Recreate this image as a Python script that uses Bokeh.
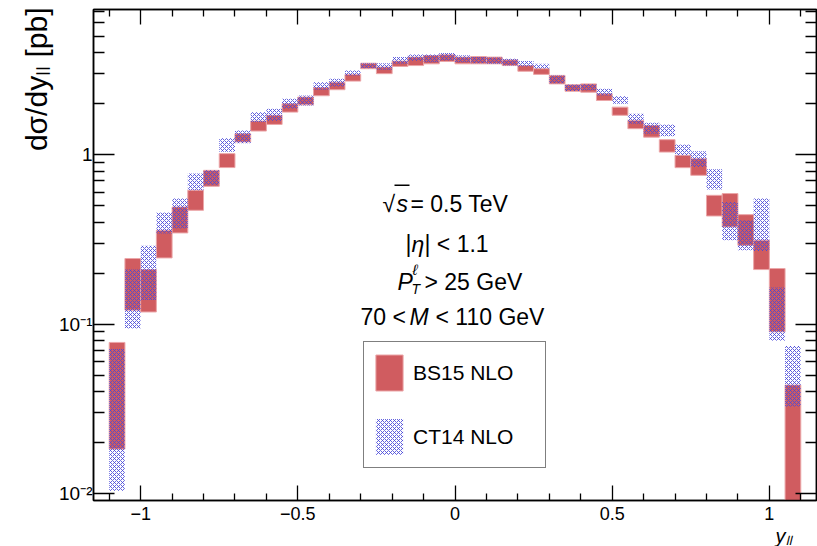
from bokeh.plotting import figure
from bokeh.models import (ColumnDataSource, Range1d, FixedTicker, LinearAxis, LogAxis,
                          Label, Legend, LegendItem, BoxAnnotation, Title)
from bokeh.embed import file_html
from bokeh.resources import INLINE

# ---------------- data ----------------
bin_lo = [-1.10, -1.05, -1.00, -0.95, -0.90, -0.85, -0.80, -0.75, -0.70, -0.65, -0.60,
          -0.55, -0.50, -0.45, -0.40, -0.35, -0.30, -0.25, -0.20, -0.15, -0.10, -0.05,
          0.00, 0.05, 0.10, 0.15, 0.20, 0.25, 0.30, 0.35, 0.40, 0.45, 0.50,
          0.55, 0.60, 0.65, 0.70, 0.75, 0.80, 0.85, 0.90, 0.95, 1.00, 1.05]
bin_hi = [-1.05, -1.00, -0.95, -0.90, -0.85, -0.80, -0.75, -0.70, -0.65, -0.60, -0.55,
          -0.50, -0.45, -0.40, -0.35, -0.30, -0.25, -0.20, -0.15, -0.10, -0.05, 0.00,
          0.05, 0.10, 0.15, 0.20, 0.25, 0.30, 0.35, 0.40, 0.45, 0.50, 0.55,
          0.60, 0.65, 0.70, 0.75, 0.80, 0.85, 0.90, 0.95, 1.00, 1.05, 1.10]

bs15_lo = [0.0183, 0.121, 0.118, 0.246, 0.3455, 0.470, 0.651, 0.840, 1.19, 1.38, 1.51,
           1.785, 1.97, 2.23, 2.42, 2.72, 3.22, 3.01, 3.32, 3.36, 3.44, 3.55,
           3.44, 3.44, 3.44, 3.36, 3.11, 2.98, 2.62, 2.37, 2.34, 2.09, 1.71,
           1.425, 1.27, 1.037, 0.839, 0.756, 0.435, 0.375, 0.292, 0.210, 0.0901, 0.004]
bs15_hi = [0.078, 0.244, 0.210, 0.358, 0.4915, 0.617, 0.809, 1.015, 1.33, 1.58, 1.71,
           2.00, 2.19, 2.49, 2.68, 2.98, 3.47, 3.29, 3.57, 3.77, 3.85, 3.89,
           3.77, 3.80, 3.77, 3.63, 3.36, 3.22, 2.94, 2.59, 2.62, 2.29, 1.91,
           1.595, 1.49, 1.227, 0.992, 0.948, 0.576, 0.590, 0.443, 0.313, 0.213, 0.0437]

ct14_lo = [0.0104, 0.0944, 0.139, 0.343, 0.367, 0.617, 0.660, 1.04, 1.17, 1.56, 1.58,
           1.87, 1.95, 2.42, 2.53, 2.94, 3.24, 3.17, 3.44, 3.57, 3.52, 3.60,
           3.52, 3.47, 3.45, 3.36, 3.32, 3.22, 2.64, 2.38, 2.40, 2.24, 2.00,
           1.525, 1.332, 1.284, 0.992, 0.846, 0.623, 0.313, 0.273, 0.2706, 0.0798, 0.0326]
ct14_hi = [0.0713, 0.210, 0.290, 0.456, 0.551, 0.774, 0.810, 1.25, 1.39, 1.785, 1.87,
           2.14, 2.24, 2.68, 2.81, 3.14, 3.47, 3.47, 3.77, 3.91, 3.91, 3.98,
           3.86, 3.77, 3.75, 3.69, 3.57, 3.44, 2.94, 2.60, 2.62, 2.45, 2.22,
           1.747, 1.546, 1.51, 1.151, 1.047, 0.820, 0.526, 0.410, 0.551, 0.1646, 0.0742]

series_names = ["BS15 NLO", "CT14 NLO"]

x_major = [-1.0, -0.5, 0.0, 0.5, 1.0]
x_minor = [-1.1, -0.9, -0.8, -0.7, -0.6, -0.4, -0.3, -0.2, -0.1,
           0.1, 0.2, 0.3, 0.4, 0.6, 0.7, 0.8, 0.9, 1.1]
x_labels = {-1.0: "\u22121", -0.5: "\u22120.5", 0.0: "0", 0.5: "0.5", 1.0: "1"}
y_major = [0.01, 0.1, 1.0]
y_minor = [0.02, 0.03, 0.04, 0.05, 0.06, 0.07, 0.08, 0.09,
           0.2, 0.3, 0.4, 0.5, 0.6, 0.7, 0.8, 0.9,
           2.0, 3.0, 4.0, 5.0, 6.0, 7.0]
y_labels = {0.01: "10\u207b\u00b2", 0.1: "10\u207b\u00b9", 1.0: "1"}

y_title = "d\u03c3/dy\u2097\u2097 [pb]"
x_title = "y\u2097\u2097"

# ---------------- styles ----------------
FONT = "Liberation Sans"
RED = "#d05c60"
RED_EDGE = "#eba6a8"
BLUE = "#4848d8"

W, H = 817, 546
FL, FR, FT, FB = 93, 816, 9, 501   # frame edges in page pixels

p = figure(width=W, height=H,
           x_range=Range1d(-1.15, 1.15), y_range=Range1d(0.0091, 7.2),
           y_axis_type="log", output_backend="svg", toolbar_location=None,
           min_border_left=FL, min_border_right=W - FR, min_border_top=FT,
           min_border_bottom=H - FB)
p.grid.visible = False
p.outline_line_color = "black"
p.outline_line_width = 1.5
p.background_fill_color = "white"
p.border_fill_color = "white"

xt = FixedTicker(ticks=x_major, minor_ticks=x_minor)
yt = FixedTicker(ticks=y_major, minor_ticks=y_minor)


def style_x(ax, labels=True):
    ax.ticker = xt
    ax.major_tick_in = 15
    ax.major_tick_out = 0
    ax.minor_tick_in = 7
    ax.minor_tick_out = 0
    ax.major_tick_line_width = 1.3
    ax.minor_tick_line_width = 1.3
    ax.axis_line_width = 1.5
    ax.axis_line_color = "black"
    if labels:
        ax.major_label_overrides = x_labels
        ax.major_label_text_font = FONT
        ax.major_label_text_font_size = "18px"
        ax.major_label_standoff = 6
        ax.major_label_text_color = "black"
    else:
        ax.major_label_text_font_size = "1px"
        ax.major_label_text_color = None
        ax.major_label_standoff = 0


def style_y(ax, labels=True):
    ax.ticker = yt
    ax.major_tick_in = 21
    ax.major_tick_out = 0
    ax.minor_tick_in = 11
    ax.minor_tick_out = 0
    ax.major_tick_line_width = 1.3
    ax.minor_tick_line_width = 1.3
    ax.axis_line_width = 1.5
    ax.axis_line_color = "black"
    if labels:
        ax.major_label_overrides = y_labels
        ax.major_label_text_font = FONT
        ax.major_label_text_font_size = "19px"
        ax.major_label_standoff = 1
        ax.major_label_text_color = "black"
    else:
        ax.major_label_text_font_size = "1px"
        ax.major_label_text_color = None
        ax.major_label_standoff = 0


style_x(p.xaxis[0])
style_y(p.yaxis[0])
top_ax = LinearAxis()
style_x(top_ax, labels=False)
p.add_layout(top_ax, "above")
right_ax = LogAxis()
style_y(right_ax, labels=False)
p.add_layout(right_ax, "right")

# axis titles as side-panel titles (not clipped)
p.add_layout(Title(text=y_title, align="right", text_font=FONT, text_font_size="30px",
                   text_font_style="normal", text_color="black", standoff=8, offset=-2), "left")
p.add_layout(Title(text=x_title, align="right", text_font=FONT, text_font_size="20px",
                   text_font_style="italic", text_color="black", standoff=0, offset=25), "below")

src = ColumnDataSource(dict(left=bin_lo, right=bin_hi,
                            bs_lo=bs15_lo, bs_hi=bs15_hi,
                            ct_lo=ct14_lo, ct_hi=ct14_hi))

r_bs = p.quad(left="left", right="right", bottom="bs_lo", top="bs_hi", source=src,
              fill_color=RED, fill_alpha=1.0, line_color=RED_EDGE, line_width=1)
r_ct = p.quad(left="left", right="right", bottom="ct_lo", top="ct_hi", source=src,
              fill_alpha=0.0, line_alpha=0.0,
              hatch_pattern="diagonal_cross", hatch_color=BLUE, hatch_scale=4,
              hatch_weight=1, hatch_alpha=0.85)

legend = Legend(items=[LegendItem(label=series_names[0], renderers=[r_bs]),
                       LegendItem(label=series_names[1], renderers=[r_ct])],
                location=(363 - FL, FB - 469),
                glyph_width=34, glyph_height=45, padding=8, spacing=19,
                label_standoff=7, label_width=124, label_height=45,
                label_text_font=FONT, label_text_font_size="21px",
                label_text_color="black",
                border_line_color="black", border_line_width=1.5,
                background_fill_color="white", background_fill_alpha=1.0, margin=0)
p.add_layout(legend)


def lab(text, x, y, size, style="normal", align="left", baseline="alphabetic"):
    p.add_layout(Label(x=x - FL, y=FB - y, x_units="screen", y_units="screen",
                       text=text, text_font=FONT, text_font_size=f"{size}px",
                       text_font_style=style, text_align=align,
                       text_baseline=baseline, text_color="black"))


# physics text block
lab("\u221a", 382, 204, 23)
lab("s", 396, 204, 23, style="italic")
p.add_layout(BoxAnnotation(left=394 - FL, right=409 - FL, top=FB - 185, bottom=FB - 186.5,
                           left_units="screen", right_units="screen",
                           top_units="screen", bottom_units="screen",
                           fill_color="black", fill_alpha=1.0, line_alpha=0.0))
lab("= 0.5 TeV", 410, 204, 23)

lab("|", 405, 244, 23)
lab("\u03b7", 411, 244, 23, style="italic")
lab("| < 1.1", 424, 244, 23)

lab("P", 397, 282, 23, style="italic")
lab("T", 411, 289, 14, style="italic")
lab("\u2113", 412, 270, 15, style="italic")
lab("> 25 GeV", 424, 282, 23)

lab("70 <", 360, 317, 23)
lab("M", 409, 317, 23, style="italic")
lab("< 110 GeV", 435, 317, 23)

open("out.html", "w").write(file_html(p, INLINE))
